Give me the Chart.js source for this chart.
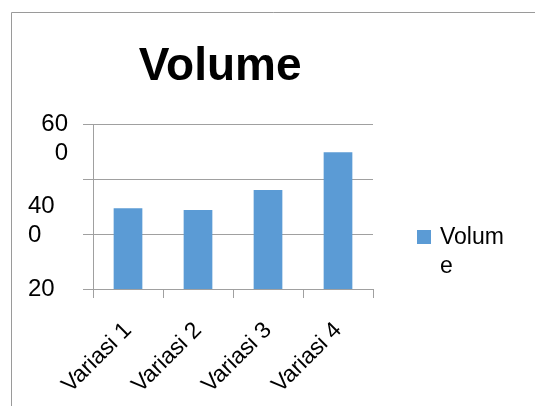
<!DOCTYPE html>
<html>
<head>
<meta charset="utf-8">
<script src="https://cdn.jsdelivr.net/npm/chart.js@4"></script>
<style>
  body { margin: 0; background: #fff; }
</style>
</head>
<body>
<canvas id="myChart" width="535" height="406"></canvas>
<script>
const labels = ['Variasi 1', 'Variasi 2', 'Variasi 3', 'Variasi 4'];
const volume = [396, 392, 440, 532];
const seriesName = 'Volume';
const yLabelValues = [200, 400, 600];
const yLabelTexts = ['20', '40\n0', '60\n0'];
const yGridValues = [200, 333.33, 466.67, 600];

const gray = '#a0a0a0';
const blue = '#5b9bd5';

// thin frame round the chart (only top and left edges show in the picture)
const frame = {
  id: 'frame',
  beforeDraw(chart) {
    const c = chart.ctx;
    c.save();
    c.strokeStyle = '#9a9a9a';
    c.lineWidth = 1;
    c.beginPath();
    c.moveTo(11.5, chart.height);
    c.lineTo(11.5, 12.5);
    c.lineTo(chart.width, 12.5);
    c.stroke();
    c.restore();
  }
};

// legend sits far right of the plot with the name wrapped on two lines,
// the built in legend box is too narrow for that so it is drawn here
const sideLegend = {
  id: 'sideLegend',
  afterDraw(chart) {
    const c = chart.ctx;
    const area = chart.chartArea;
    const ds = chart.data.datasets[0];
    const lines = [ds.label.slice(0, 5), ds.label.slice(5)];
    const x = area.right + 44;
    const y = area.bottom - 59;
    c.save();
    c.fillStyle = ds.backgroundColor;
    c.fillRect(x, y, 14, 14);
    c.fillStyle = '#000';
    c.font = '23px "Liberation Sans"';
    c.textBaseline = 'middle';
    lines.forEach((t, i) => c.fillText(t, x + 23, y + 8 + i * 29));
    c.restore();
  }
};

const ctx = document.getElementById('myChart').getContext('2d');
const myChart = new Chart(ctx, {
  type: 'bar',
  data: {
    labels: labels,
    datasets: [{
      label: seriesName,
      data: volume,
      backgroundColor: blue,
      categoryPercentage: 1,
      barPercentage: 0.41
    }]
  },
  options: {
    responsive: false,
    animation: false,
    layout: { padding: { left: 28, top: 12, right: 162, bottom: 0 } },
    plugins: {
      title: {
        display: true,
        text: 'Volume  ',
        fullSize: false,
        color: '#000',
        font: { family: 'Liberation Sans', size: 46, weight: 'bold', lineHeight: 1.2 },
        padding: { top: 28, bottom: 29 }
      },
      legend: { display: false },
      tooltip: { enabled: false }
    },
    scales: {
      x: {
        grid: { drawOnChartArea: false, color: gray, tickLength: 9 },
        border: { color: gray },
        ticks: {
          color: '#000',
          font: { family: 'Liberation Sans', size: 23 },
          minRotation: 45,
          maxRotation: 45,
          autoSkip: false,
          padding: 19
        },
        afterFit: s => { s.height = 117; }
      },
      y: {
        min: 200,
        max: 600,
        afterBuildTicks: s => {
          const vals = [...new Set([...yGridValues, ...yLabelValues])].sort((a, b) => a - b);
          s.ticks = vals.map(v => ({ value: v }));
        },
        grid: {
          color: c => yGridValues.includes(c.tick.value) ? gray : 'transparent',
          tickLength: 10
        },
        border: { color: gray },
        ticks: {
          autoSkip: false,
          crossAlign: 'far',
          color: '#000',
          font: { family: 'Liberation Sans', size: 24, lineHeight: 1.2 },
          callback: v => {
            const i = yLabelValues.indexOf(v);
            if (i < 0) return '';
            let lines = yLabelTexts[i].split('\n');
            // top label is right aligned in the original
            if (v === 600) lines = [lines[0].padStart(4), lines[1].padStart(5)];
            // blank lines above so the first line sits on the tick
            return Array(lines.length - 1).fill('').concat(lines);
          }
        },
        afterFit: s => { s.width = 65; }
      }
    }
  },
  plugins: [frame, sideLegend]
});
</script>
</body>
</html>
